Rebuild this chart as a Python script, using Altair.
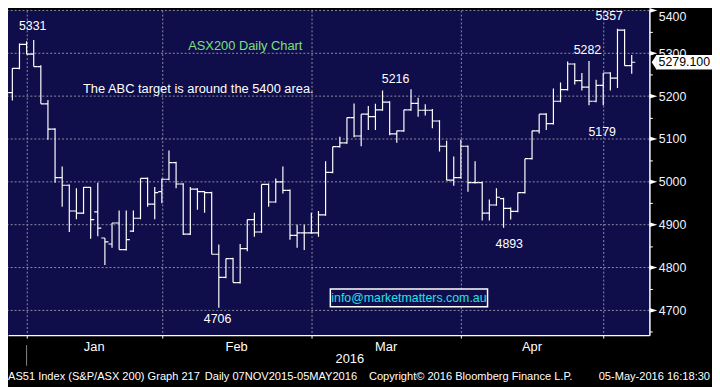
import altair as alt
import pandas as pd

# ---------------- data ----------------
bar_index = list(range(-4, 85))  # trading-day index, 0 = 4 Jan 2016
opens = [5142, 5208, 5265, 5321, 5298, 5269, 5182, 5123, 5010, 4992,
         4932, 4927, 4987, 4930, 4869, 4855, 4904, 4842, 4885, 4915,
         5008, 4948, 4977, 5006, 5045, 4995, 4878, 4983, 4977, 4975,
         4831, 4777, 4821, 4765, 4844, 4912, 4883, 4994, 4953, 5000,
         4980, 4875, 4881, 4881, 4881, 4923, 5022, 5082, 5091, 5150,
         5107, 5158, 5152, 5168, 5186, 5112, 5119, 5168, 5183, 5167,
         5167, 5142, 5083, 5004, 5010, 5083, 4998, 4998, 4927, 4946,
         4961, 4938, 4931, 4975, 5054, 5119, 5158, 5136, 5188, 5215,
         5275, 5236, 5221, 5188, 5225, 5254, 5242, 5354, 5271]
highs = [5213, 5265, 5323, 5328, 5331, 5272, 5191, 5125, 5036, 4994,
         4985, 4988, 4988, 4998, 4869, 4904, 4933, 4933, 4933, 5008,
         5010, 4988, 5008, 5073, 5047, 4997, 4988, 4985, 4978, 4977,
         4854, 4821, 4823, 4855, 4912, 4928, 4994, 4996, 5008, 5036,
         4982, 4900, 4900, 4928, 4932, 5048, 5082, 5105, 5150, 5183,
         5158, 5177, 5182, 5213, 5188, 5119, 5168, 5216, 5196, 5181,
         5170, 5144, 5096, 5059, 5099, 5085, 5048, 5000, 4959, 4985,
         4963, 4940, 4975, 5054, 5119, 5158, 5160, 5218, 5232, 5281,
         5277, 5254, 5282, 5238, 5254, 5256, 5357, 5356, 5296]
lows = [5142, 5190, 5263, 5298, 5269, 5182, 5098, 4998, 4942, 4883,
        4913, 4925, 4867, 4873, 4806, 4846, 4842, 4840, 4883, 4913,
        4942, 4913, 4950, 5004, 4985, 4876, 4876, 4935, 4928, 4831,
        4706, 4775, 4765, 4763, 4838, 4872, 4881, 4942, 4951, 4973,
        4865, 4846, 4841, 4879, 4872, 4921, 5020, 5080, 5089, 5104,
        5083, 5121, 5121, 5166, 5109, 5091, 5117, 5166, 5152, 5155,
        5125, 5071, 5004, 4991, 5008, 4977, 4996, 4910, 4910, 4944,
        4893, 4912, 4929, 4973, 5052, 5113, 5121, 5134, 5186, 5213,
        5227, 5213, 5179, 5186, 5179, 5213, 5219, 5271, 5252]
closes = [5208, 5265, 5321, 5298, 5269, 5182, 5123, 5010, 4992, 4932,
          4927, 4987, 4912, 4892, 4860, 4904, 4842, 4865, 4915, 5008,
          4948, 4975, 5006, 5045, 4995, 4878, 4983, 4977, 4975, 4831,
          4777, 4821, 4765, 4844, 4912, 4883, 4994, 4953, 5000, 4980,
          4875, 4881, 4881, 4881, 4923, 5022, 5082, 5091, 5150, 5107,
          5158, 5152, 5168, 5186, 5112, 5119, 5168, 5183, 5167, 5167,
          5142, 5083, 5004, 5010, 5083, 4998, 4998, 4927, 4946, 4964,
          4938, 4931, 4975, 5054, 5119, 5158, 5136, 5188, 5215, 5275,
          5236, 5221, 5188, 5225, 5254, 5242, 5354, 5271, 5279.1]

month_labels = ["Jan", "Feb", "Mar", "Apr"]
month_tick_index = [-1, 18, 39, 60, 80]
year_label = "2016"
year_index = 44.4

y_tick_values = [4650, 4700, 4750, 4800, 4850, 4900, 4950, 5000, 5050,
                 5100, 5150, 5200, 5250, 5300, 5350, 5400]
y_label_values = [4700, 4800, 4900, 5000, 5100, 5200, 5300, 5400]

ann_text = ["5331", "5216", "4706", "4893", "5357", "5282", "5179"]
ann_index = [-0.14, 50.83, 25.83, 66.8, 80.83, 77.78, 79.86]
ann_value = [5363.8, 5239.2, 4680.8, 4853.9, 5386.8, 5308.4, 5116.9]

last_price = 5279.1

title_text = "ASX200 Daily Chart"
note_text = "The ABC target is around the 5400 area."
email_text = "info@marketmatters.com.au"
footer_texts = ["AS51 Index (S&P/ASX 200) Graph 217",
                "Daily 07NOV2015-05MAY2016",
                "Copyright\u00a9 2016 Bloomberg Finance L.P.",
                "05-May-2016 16:18:30"]

# ---------------- style ----------------
TOTAL_W = 712
TOTAL_H = 379
PLOT_W = 648.7
PLOT_H = 328.7
X_DOMAIN = [-3.611, 86.486]
Y_DOMAIN = [4642.3, 5400.7]
NAVY = "#0f0e4a"
GRID = "#8e8ea4"
SANS = "Liberation Sans, Arial, sans-serif"

bars = pd.DataFrame({"k": bar_index, "open": opens, "high": highs,
                     "low": lows, "close": closes})

xscale = alt.Scale(domain=X_DOMAIN, nice=False, zero=False)
yscale = alt.Scale(domain=Y_DOMAIN, nice=False, zero=False)

x_axis = alt.Axis(values=month_tick_index, labels=False, title=None, grid=True,
                  gridDash=[2, 2], gridColor=GRID, gridWidth=1, tickSize=3,
                  tickColor="white", domainColor="white", domainWidth=1.5)
y_axis = alt.Axis(orient="right", values=y_tick_values, format="d",
                  labelExpr="datum.value % 100 === 0 ? datum.label : ''",
                  title=None, grid=False, tickSize=3, tickColor="white",
                  domainColor="white", domainWidth=1.5, labelColor="#eef2ff",
                  labelFont=SANS, labelFontSize=12.5, labelPadding=6,
                  labelOverlap=False, labelFlush=False,
                  labelBaseline={"condition": {"test": "datum.value === 5400", "value": "top"},
                                 "value": "middle"})

# horizontal grid (carries the y axis)
hgrid = alt.Chart(pd.DataFrame({"v": y_label_values})).mark_rule(
    color=GRID, strokeDash=[2, 2], strokeWidth=1).encode(
    y=alt.Y("v:Q", scale=yscale, axis=y_axis))

base = alt.Chart(bars)
hl = base.mark_rule(color="white", strokeWidth=1.2, clip=True).encode(
    x=alt.X("k:Q", scale=xscale, axis=x_axis),
    y=alt.Y("low:Q", scale=yscale, axis=y_axis),
    y2="high:Q")
open_tick = base.transform_calculate(k0="datum.k - 0.5").mark_rule(
    color="white", strokeWidth=1.2, clip=True).encode(
    x=alt.X("k0:Q", scale=xscale, axis=x_axis), x2="k:Q",
    y=alt.Y("open:Q", scale=yscale, axis=y_axis))
close_tick = base.transform_calculate(k1="datum.k + 0.5").mark_rule(
    color="white", strokeWidth=1.2, clip=True).encode(
    x=alt.X("k:Q", scale=xscale, axis=x_axis), x2="k1:Q",
    y=alt.Y("close:Q", scale=yscale, axis=y_axis))

# right-axis arrows at labelled values
arrows = alt.Chart(pd.DataFrame({"v": y_label_values})).mark_point(
    shape="M-1,-0.6L1,0L-1,0.6Z", size=64, filled=True, color="white",
    opacity=1, clip=False).encode(
    x=alt.value(PLOT_W + 4), y=alt.Y("v:Q", scale=yscale, axis=y_axis))

# price annotations
ann = alt.Chart(pd.DataFrame({"t": ann_text, "k": ann_index, "v": ann_value})).mark_text(
    color="white", fontSize=12.5, font=SANS, align="center", baseline="middle").encode(
    x=alt.X("k:Q", scale=xscale, axis=x_axis),
    y=alt.Y("v:Q", scale=yscale, axis=y_axis), text="t:N")

# month labels
mid = [(a + b) / 2 for a, b in zip(month_tick_index[:-1], month_tick_index[1:])]
months = alt.Chart(pd.DataFrame({"m": month_labels, "k": mid})).mark_text(
    color="white", fontSize=13, font=SANS, align="center", baseline="middle").encode(
    x=alt.X("k:Q", scale=xscale, axis=x_axis), y=alt.value(PLOT_H + 12.5), text="m:N")
year = alt.Chart(pd.DataFrame({"m": [year_label], "k": [year_index]})).mark_text(
    color="white", fontSize=13, font=SANS, align="center", baseline="middle").encode(
    x=alt.X("k:Q", scale=xscale, axis=x_axis), y=alt.value(PLOT_H + 24.5), text="m:N")
year_sep = alt.Chart(pd.DataFrame({"k": [month_tick_index[0]]})).mark_rule(
    color="#888888", strokeWidth=1).encode(
    x=alt.X("k:Q", scale=xscale, axis=x_axis), y=alt.value(PLOT_H + 10), y2=alt.value(PLOT_H + 31))


def label(text, x, y, color="white", size=13, align="center"):
    return alt.Chart(alt.Data(values=[{}])).mark_text(
        text=text, color=color, fontSize=size, font=SANS, align=align,
        baseline="middle").encode(x=alt.value(x), y=alt.value(y))


title = label(title_text, 240, 36, color="#7ce07c")
note = label(note_text, 192.5, 80)

email_box = alt.Chart(alt.Data(values=[{}])).mark_rect(
    fill=NAVY, stroke="white", strokeWidth=1.5).encode(
    x=alt.value(326), x2=alt.value(485), y=alt.value(282), y2=alt.value(300))
email = label(email_text, 405.5, 291, color="#22e0ea", size=12.5)

price_df = pd.DataFrame({"p": [last_price], "top": [last_price + 17],
                         "bot": [last_price - 17], "t": [f"{last_price:.3f}"]})
price_box = alt.Chart(price_df).mark_rect(fill="white").encode(
    x=alt.value(655.5), x2=alt.value(712),
    y=alt.Y("top:Q", scale=yscale, axis=y_axis), y2="bot:Q")
price_arrow = alt.Chart(price_df).mark_point(
    shape="M0.33,-1L-0.33,0L0.33,1Z", size=225, filled=True, color="white",
    opacity=1, clip=False).encode(
    x=alt.value(653.5), y=alt.Y("p:Q", scale=yscale, axis=y_axis))
price_text = alt.Chart(price_df).mark_text(
    color="black", fontSize=12.5, font=SANS, align="center", baseline="middle").encode(
    x=alt.value(684), y=alt.Y("p:Q", scale=yscale, axis=y_axis), text="t:N")

FOOT_Y = TOTAL_H - 8
footer = [
    label(footer_texts[0], 0, FOOT_Y, size=11.2, align="left"),
    label(footer_texts[1], 199, FOOT_Y, size=11.2, align="left"),
    label(footer_texts[2], 365, FOOT_Y, size=11.2, align="left"),
    label(footer_texts[3], 710, FOOT_Y, size=11.2, align="right"),
]

chart = alt.layer(
    hgrid, hl, open_tick, close_tick, arrows, ann, months, year, year_sep,
    title, note, email_box, email, price_box, price_arrow, price_text, *footer
).properties(
    width=PLOT_W, height=PLOT_H, background="black",
    padding={"left": 0, "top": 0, "right": TOTAL_W - PLOT_W, "bottom": TOTAL_H - PLOT_H},
    autosize=alt.AutoSizeParams(type="none"),
).configure_view(fill=NAVY, stroke=None)

chart.save("out.html", embed_options={"renderer": "svg", "actions": False})
